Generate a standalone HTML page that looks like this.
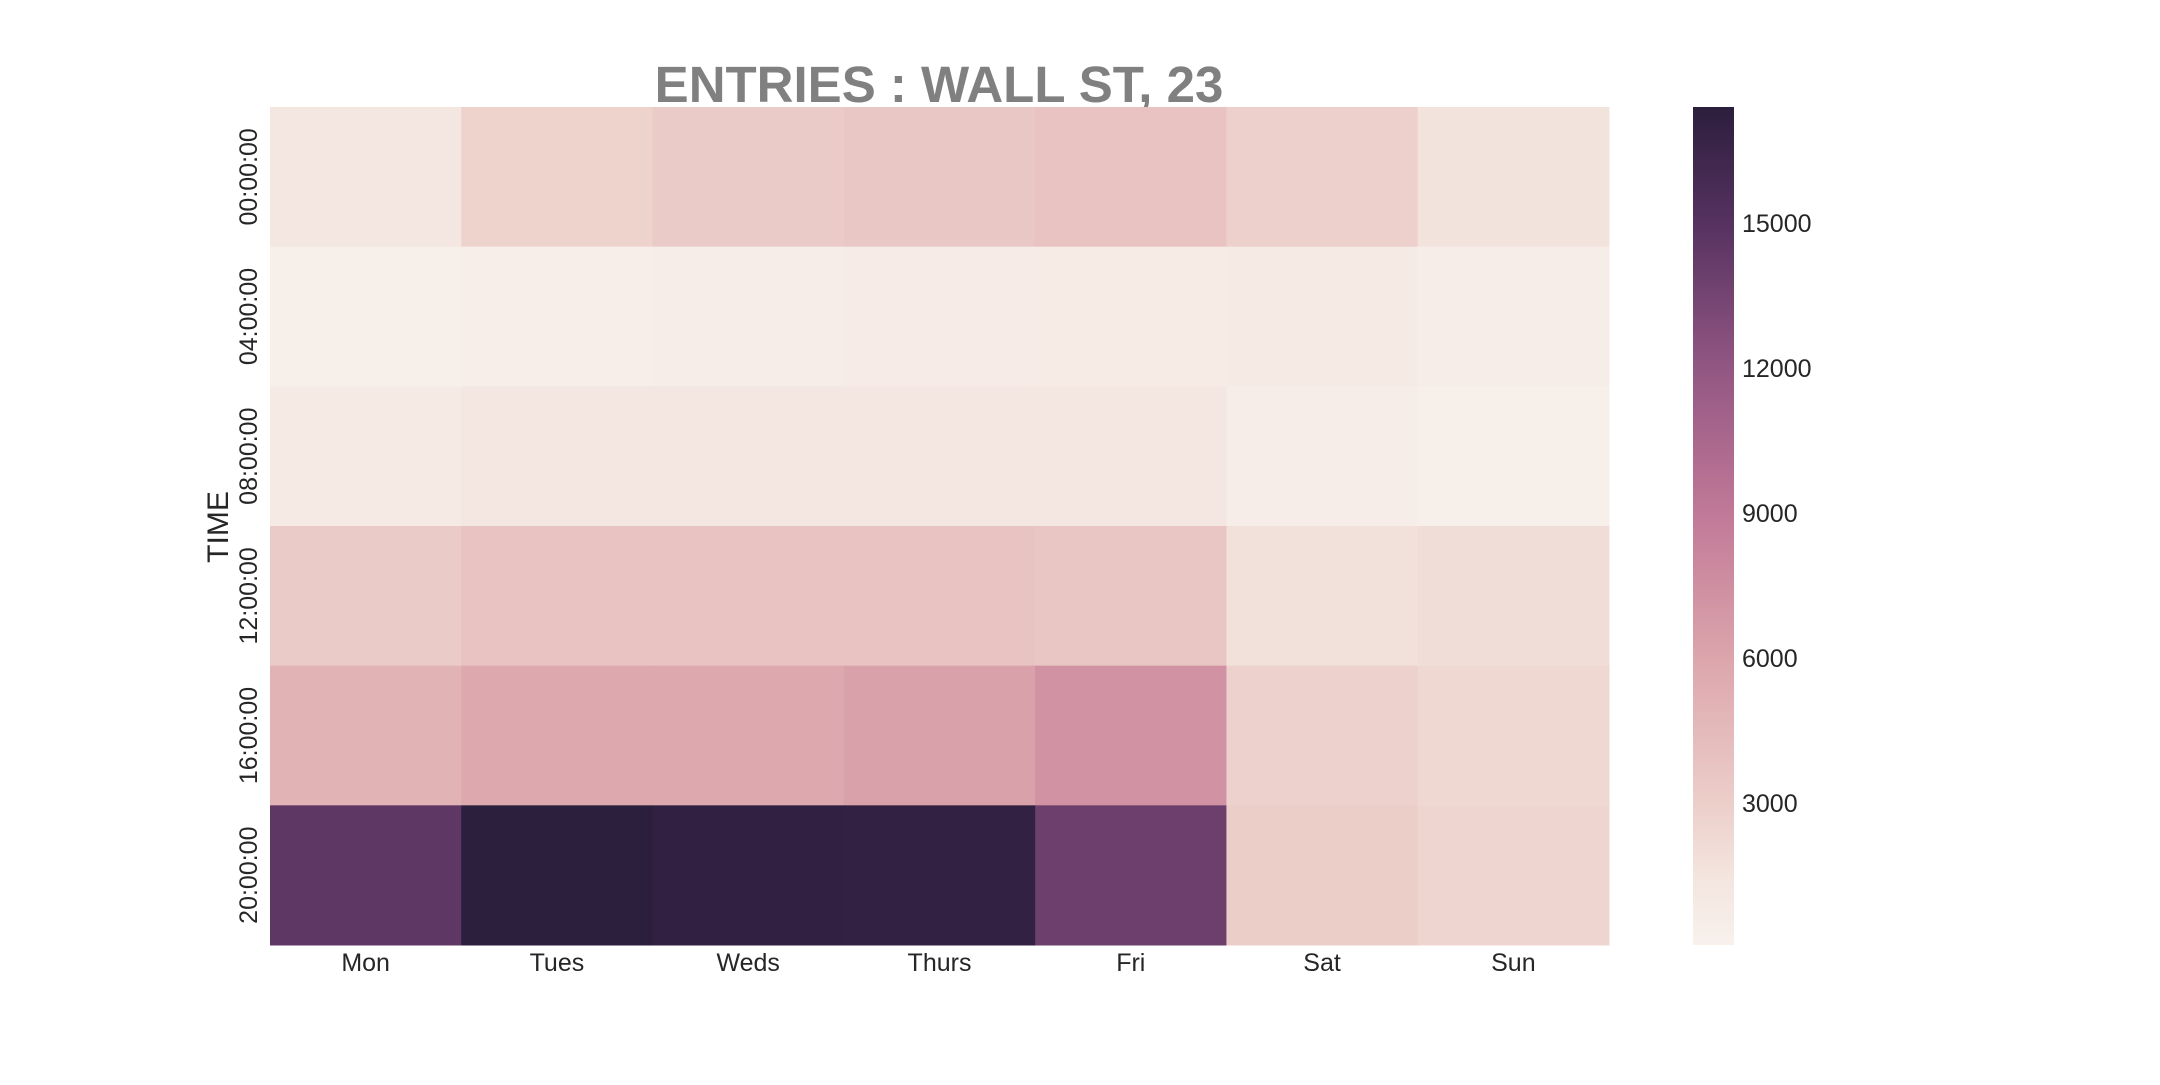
<!DOCTYPE html>
<html><head><meta charset="utf-8"><style>
html,body{margin:0;padding:0;background:#fff;}
svg text{font-family:"Liberation Sans",sans-serif;}
</style></head><body>
<svg id="chart" width="2160" height="1080" xmlns="http://www.w3.org/2000/svg">
<rect width="2160" height="1080" fill="#fff"/>
<text x="939" y="102" text-anchor="middle" font-size="51" font-weight="bold" fill="#808080">ENTRIES : WALL ST, 23</text>
<text transform="translate(228,527) rotate(-90)" text-anchor="middle" font-size="30" fill="#262626">TIME</text>
<g id="cells"></g><g id="xt"></g><g id="yt"></g>
<defs><linearGradient id="cg" x1="0" y1="1" x2="0" y2="0"></linearGradient></defs>
<rect x="1693" y="107" width="41" height="838" fill="url(#cg)"/>
<g id="ct"></g>
</svg>
<script>
const days=["Mon","Tues","Weds","Thurs","Fri","Sat","Sun"];
const times=["00:00:00","04:00:00","08:00:00","12:00:00","16:00:00","20:00:00"];
const values=[
[1300,2700,3200,3500,3800,2900,1600],
[300,400,500,700,800,900,500],
[900,1300,1300,1300,1300,500,300],
[3200,3800,3800,3800,3600,1800,2000],
[5000,5800,5800,6300,7200,2800,2400],
[14600,17400,17100,17000,13900,3000,2500]];
const cbTicks=[3000,6000,9000,12000,15000];
const vmin=60,vmax=17400;
const X0=270,X1=1609,Y0=107,Y1=945;
const stops=[[0,[248,241,236]],[0.08,[244,229,223]],[0.17,[236,206,201]],[0.34,[220,166,172]],[0.51,[194,122,152]],[0.69,[146,86,131]],[0.86,[86,50,96]],[1,[44,30,61]]];
function cmap(v){let t=Math.max(0,Math.min(1,(v-vmin)/(vmax-vmin)));
for(let i=1;i<stops.length;i++){if(t<=stops[i][0]){const a=stops[i-1],b=stops[i];const f=(t-a[0])/(b[0]-a[0]);
return 'rgb('+a[1].map((c,k)=>Math.round(c+(b[1][k]-c)*f)).join(',')+')';}}return 'rgb(44,30,61)';}
const NS="http://www.w3.org/2000/svg";
const cw=(X1-X0)/days.length,ch=(Y1-Y0)/times.length;
function xs(i){return X0+i*cw;} function ys(j){return Y0+j*ch;}
const cells=document.getElementById('cells');
values.forEach((row,j)=>row.forEach((v,i)=>{const r=document.createElementNS(NS,'rect');
r.setAttribute('x',xs(i));r.setAttribute('y',ys(j));r.setAttribute('width',cw+0.5);r.setAttribute('height',ch+0.5);r.setAttribute('fill',cmap(v));


cells.appendChild(r);}));
const xt=document.getElementById('xt');
days.forEach((d,i)=>{const t=document.createElementNS(NS,'text');t.setAttribute('x',xs(i)+cw/2);t.setAttribute('y',971);t.setAttribute('text-anchor','middle');t.setAttribute('font-size','25');t.setAttribute('fill','#262626');t.textContent=d;


xt.appendChild(t);});
const yt=document.getElementById('yt');
times.forEach((d,j)=>{const t=document.createElementNS(NS,'text');const cy=ys(j)+ch/2;t.setAttribute('transform','translate(257,'+cy+') rotate(-90)');t.setAttribute('text-anchor','middle');t.setAttribute('font-size','25');t.setAttribute('fill','#262626');t.textContent=d;


yt.appendChild(t);});
const g=document.getElementById('cg');
stops.forEach(s=>{const st=document.createElementNS(NS,'stop');st.setAttribute('offset',s[0]);st.setAttribute('stop-color','rgb('+s[1].join(',')+')');g.appendChild(st);});
const ct=document.getElementById('ct');
cbTicks.forEach(v=>{const y=Y1-(v-vmin)/(vmax-vmin)*(Y1-Y0);const t=document.createElementNS(NS,'text');t.setAttribute('x',1742);t.setAttribute('y',y+9);t.setAttribute('font-size','25');t.setAttribute('fill','#262626');t.textContent=v;


ct.appendChild(t);});
</script>
</body></html>
